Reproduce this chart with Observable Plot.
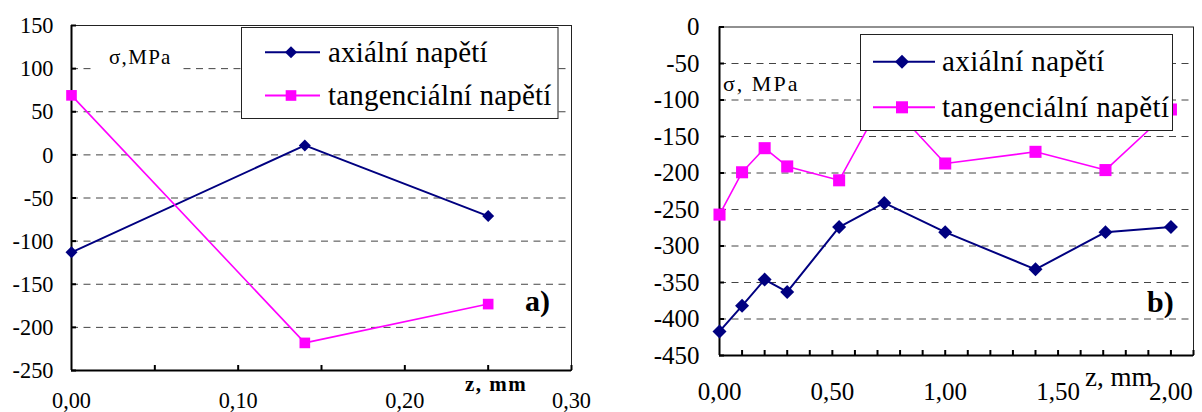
<!DOCTYPE html>
<html><head><meta charset="utf-8">
<script src="https://cdn.jsdelivr.net/npm/d3@7"></script>
<script src="https://cdn.jsdelivr.net/npm/@observablehq/plot@0.6"></script>
<style>
body{margin:0;background:#fff;}
#wrap{position:relative;width:1202px;height:412px;overflow:hidden;background:#fff;font-family:"Liberation Serif",serif;}
#wrap > svg{position:absolute;top:0;}
#wrap text{font-family:"Liberation Serif",serif;}
</style></head><body><div id="wrap"></div>
<script>
// ---------- data ----------
const seriesNames = ["axiální napětí", "tangenciální napětí"];
const seriesColors = ["#000080", "#FF00FF"];

// panel a)
const zA = [0, 0.14, 0.25];
const axialA = [-113, 11, -71];
const tangA = [69, -218, -173];
const yTicksA = [150, 100, 50, 0, -50, -100, -150, -200, -250];
const xTicksA = [0, 0.1, 0.2, 0.3];
const xMinorA = [0.05, 0.1, 0.15, 0.2, 0.25, 0.3];

// panel b)
const zB = [0, 0.1, 0.2, 0.3, 0.53, 0.73, 1.0, 1.4, 1.71, 2.0];
const axialB = [-417, -382, -346, -363, -274, -241, -281, -332, -281, -274];
const tangB = [-257, -199, -166, -191, -210, -97, -187, -171, -196, -113];
const yTicksB = [0, -50, -100, -150, -200, -250, -300, -350, -400, -450];
const xTicksB = [0, 0.5, 1.0, 1.5, 2.0];
const xMinorB = [0.1, 0.2, 0.3, 0.4, 0.5, 0.6, 0.7, 0.8, 0.9, 1.0, 1.1, 1.2, 1.3, 1.4, 1.5, 1.6, 1.7, 1.8, 1.9, 2.0, 2.1];

const yLabel = ["σ,MPa", "σ, MPa"];
const xLabel = "z, mm";
const panelTags = ["a)", "b)"];

const FONT = "Liberation Serif";
const fmt = d => d.toFixed(2).replace(".", ",");

function makePanel(c) {
  const ax = c.z.map((z, i) => ({z, v: c.axial[i]}));
  const tg = c.z.map((z, i) => ({z, v: c.tang[i]}));
  const grid = c.yTicks.filter(v => v > c.yDomain[0] && v < c.yDomain[1]);
  const svg = Plot.plot({
    width: c.width, height: 412,
    marginLeft: c.ml, marginRight: c.mr, marginTop: c.mt, marginBottom: c.mb,
    x: {domain: c.xDomain},
    y: {domain: c.yDomain},
    style: {fontFamily: FONT, background: "transparent", color: "black"},
    marks: [
      Plot.ruleY(grid, {stroke: "#444", strokeWidth: 1, strokeDasharray: "7,5.5"}),
      Plot.frame({stroke: "#222", strokeWidth: 1}),
      Plot.axisY({ticks: c.yTicks, tickSize: 0, tickPadding: c.padY, tickFormat: d => String(d), fontSize: c.fontY, fontFamily: FONT, label: null}),
      Plot.axisY({ticks: c.yTicks, tickSize: -5, tickFormat: () => "", strokeWidth: 2, label: null}),
      Plot.axisX({ticks: c.xTicks, tickSize: 0, tickPadding: c.padX, tickFormat: fmt, fontSize: c.fontX, fontFamily: FONT, label: null}),
      Plot.axisX({ticks: c.xMinor, tickSize: -5, tickFormat: () => "", strokeWidth: 2, label: null}),
      Plot.ruleX([c.xDomain[0]], {stroke: "black", strokeWidth: 2}),
      Plot.ruleY([c.yDomain[0]], {stroke: "black", strokeWidth: 2}),
      Plot.line(ax, {x: "z", y: "v", stroke: seriesColors[0], strokeWidth: 2}),
      Plot.dot(ax, {x: "z", y: "v", symbol: "diamond2", r: c.dR, fill: seriesColors[0], stroke: "none"}),
      Plot.line(tg, {x: "z", y: "v", stroke: seriesColors[1], strokeWidth: 1.6}),
      Plot.dot(tg, {x: "z", y: "v", symbol: "square", r: c.sR, fill: seriesColors[1], stroke: "none"})
    ]
  });
  svg.querySelectorAll("text").forEach(t => t.setAttribute("font-family", FONT));
  if (c.squeeze) {
    svg.querySelectorAll('g[aria-label$="tick label"] text').forEach(t => {
      const tr = t.getAttribute("transform");
      if (tr && tr.startsWith("translate")) t.setAttribute("transform", tr + ` scale(${c.squeeze},1)`);
    });
  }
  svg.style.left = c.left + "px";
  return svg;
}

const wrap = document.getElementById("wrap");
wrap.appendChild(makePanel({
  left: 0, width: 600, ml: 71, mr: 29, mt: 25, mb: 42,
  xDomain: [0, 0.3], yDomain: [-250, 150],
  z: zA, axial: axialA, tang: tangA,
  yTicks: yTicksA, xTicks: xTicksA, xMinor: xMinorA,
  fontY: 24, fontX: 24, padY: 18, padX: 20, dR: 5.4, sR: 6, squeeze: 0.93
}));
wrap.appendChild(makePanel({
  left: 600, width: 602, ml: 119, mr: 9, mt: 26.5, mb: 57,
  xDomain: [0, 2.1], yDomain: [-450, 0],
  z: zB, axial: axialB, tang: tangB,
  yTicks: yTicksB, xTicks: xTicksB, xMinor: xMinorB,
  fontY: 25, fontX: 25, padY: 20, padX: 27, dR: 6.3, sR: 6.8
}));

// ---------- overlay: labels & legends ----------
const ov = d3.select(wrap).append("svg")
  .attr("width", 1202).attr("height", 412)
  .style("left", "0px").attr("font-family", FONT);

function label(x, y, text, size, opts = {}) {
  return ov.append("text").attr("x", x).attr("y", y).text(text)
    .attr("font-family", FONT)
    .attr("font-size", size)
    .attr("font-weight", opts.bold ? "bold" : null)
    .attr("letter-spacing", opts.ls || null)
    .attr("fill", "black");
}

// y-axis title boxes
ov.append("rect").attr("x", 96).attr("y", 45).attr("width", 82).attr("height", 27).attr("fill", "white");
label(109, 64, yLabel[0], 21, {ls: 1.3});
label(723, 90.7, yLabel[1], 22, {ls: 2});

// x-axis titles
label(465, 391, xLabel, 21, {bold: true, ls: 1.5});
label(1085, 386, xLabel, 27);

// panel tags
label(525, 311, panelTags[0], 30, {bold: true});
label(1147, 311.7, panelTags[1], 30, {bold: true});

function legend(L) {
  const g = ov.append("g");
  g.append("rect").attr("x", L.x).attr("y", L.y).attr("width", L.w).attr("height", L.h)
    .attr("fill", "white").attr("stroke", "#222").attr("stroke-width", 1);
  seriesNames.forEach((name, i) => {
    const ry = L.rows[i];
    g.append("line").attr("x1", L.l1).attr("x2", L.l2).attr("y1", ry).attr("y2", ry)
      .attr("stroke", seriesColors[i]).attr("stroke-width", 2);
    const sym = i === 0 ? d3.symbolDiamond2 : d3.symbolSquare;
    const r = i === 0 ? L.dR : L.sR;
    g.append("path").attr("d", d3.symbol(sym, Math.PI * r * r)())
      .attr("transform", `translate(${L.mx},${ry})`).attr("fill", seriesColors[i]);
    g.append("text").attr("x", L.tx).attr("y", ry + 9.5).text(name)
      .attr("font-family", FONT)
      .attr("font-size", L.fs).attr("letter-spacing", L.ls).attr("fill", "black");
  });
}
legend({x: 241.5, y: 27.5, w: 316.5, h: 91, rows: [52.3, 95.5], l1: 265, l2: 320, mx: 291, tx: 328, fs: 29, ls: 0.2, dR: 5.4, sR: 6});
legend({x: 860.5, y: 34.5, w: 312, h: 96, rows: [61.7, 107.3], l1: 873, l2: 935, mx: 902, tx: 942, fs: 29, ls: 0.4, dR: 6.3, sR: 6.8});
</script></body></html>
